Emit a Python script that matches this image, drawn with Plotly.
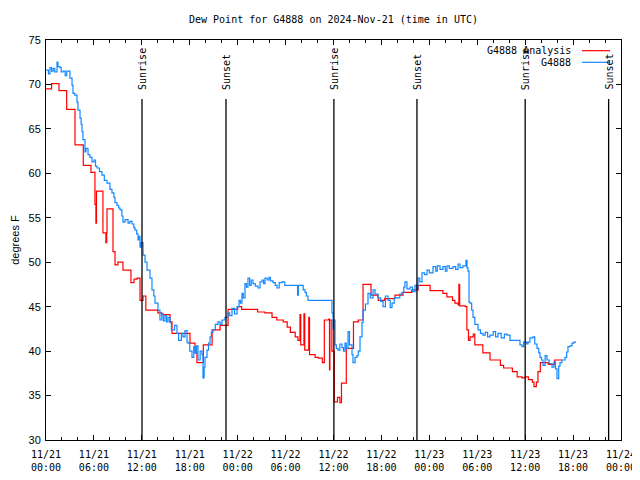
import pandas as pd
import plotly.graph_objects as go

BASE = pd.Timestamp("2024-11-21 00:00")

# Observed dew point (G4888): hours since 2024-11-21 00:00 UTC, degrees F
obs_hours = [0.0, 0.3, 0.5, 0.7, 0.9, 1.1, 1.38, 1.5, 1.75, 1.9, 2.13, 2.4, 2.6, 3.0, 3.26, 3.38, 3.6, 3.88,
             4.0, 4.26, 4.4, 4.51, 4.63, 4.88, 5.0, 5.26, 5.5, 5.76, 6.0, 6.2, 6.39, 6.7, 7.01, 7.3, 7.64,
             8.01, 8.26, 8.5, 8.64, 8.89, 9.1, 9.27, 9.5, 9.64, 9.9, 10.27, 10.5, 10.77, 11.0, 11.14, 11.35,
             11.52, 11.6, 11.77, 11.9, 12.15, 12.4, 12.65, 13.02, 13.27, 13.5, 13.65, 14.02, 14.27, 14.5,
             14.7, 14.9, 15.1, 15.28, 15.53, 15.7, 15.9, 16.1, 16.4, 16.6, 16.78, 16.95, 17.15, 17.4, 17.66,
             17.78, 18.0, 18.28, 18.5, 18.66, 18.85, 19.03, 19.3, 19.53, 19.66, 19.8, 19.91, 20.16, 20.35,
             20.54, 20.7, 20.91, 21.2, 21.54, 21.8, 22.04, 22.41, 22.79, 23.0, 23.29, 23.6, 23.92, 24.17,
             24.35, 24.54, 24.7, 24.92, 25.1, 25.29, 25.5, 25.7, 25.92, 26.2, 26.55, 26.8, 27.05, 27.25,
             27.42, 27.7, 27.92, 28.1, 28.43, 28.7, 28.93, 29.2, 29.55, 29.9, 30.3, 31.0, 31.43, 31.5, 31.6,
             32.06, 32.2, 32.43, 32.6, 32.81, 35.56, 35.81, 35.94, 36.0, 36.19, 36.35, 36.56, 36.8, 37.06,
             37.25, 37.44, 37.6, 37.82, 38.0, 38.32, 38.44, 38.7, 38.94, 39.1, 39.32, 39.57, 39.69, 40.0,
             40.32, 40.6, 40.95, 41.2, 41.57, 41.9, 42.2, 42.5, 42.83, 43.1, 43.33, 43.6, 43.95, 44.3, 44.58,
             44.8, 44.95, 45.2, 45.58, 45.9, 46.21, 46.4, 46.58, 46.8, 47.08, 47.4, 47.71, 48.0, 48.46, 48.8,
             49.0, 49.34, 49.7, 50.0, 50.21, 50.5, 50.96, 51.3, 51.6, 51.84, 52.2, 52.59, 52.72, 52.84, 52.97,
             53.09, 53.3, 53.47, 53.7, 54.1, 54.4, 54.72, 55.0, 55.3, 55.6, 56.0, 56.3, 56.6, 57.0, 57.4,
             57.73, 58.1, 58.6, 59.1, 59.35, 59.6, 59.8, 59.98, 60.2, 60.36, 60.6, 60.98, 61.2, 61.48, 61.7,
             61.86, 62.05, 62.23, 62.5, 62.73, 63.0, 63.36, 63.6, 63.8, 63.99, 64.2, 64.36, 64.6, 64.99, 65.2,
             65.36, 65.6, 65.86, 66.1, 66.37]
obs_values = [71.6, 71.2, 71.9, 71.5, 71.8, 71.4, 72.5, 72.0, 71.9, 71.4, 71.5, 71.0, 71.5, 70.7, 69.9, 69.0,
              68.8, 68.0, 67.1, 66.2, 65.5, 64.7, 63.8, 62.4, 62.8, 62.1, 61.8, 61.3, 61.5, 60.8, 60.6, 60.2,
              59.8, 59.2, 58.9, 58.2, 57.8, 57.3, 56.7, 56.4, 56.1, 55.9, 55.2, 54.5, 54.8, 54.4, 54.6, 54.3,
              53.9, 53.6, 53.2, 52.5, 52.9, 51.7, 52.2, 50.8, 50.0, 49.1, 48.2, 46.9, 46.2, 45.4, 44.6, 43.5,
              44.2, 43.4, 44.0, 43.3, 43.8, 43.2, 42.4, 42.4, 42.9, 42.0, 41.2, 41.2, 42.0, 41.6, 42.3, 41.0,
              40.9, 40.0, 39.3, 40.5, 39.8, 40.6, 39.0, 40.0, 39.6, 37.0, 38.2, 39.3, 40.1, 40.9, 41.6, 42.1,
              42.4, 43.0, 43.3, 43.0, 43.5, 43.8, 44.3, 44.0, 44.8, 44.2, 45.0, 45.7, 45.4, 46.5, 46.0, 47.6,
              47.2, 48.2, 47.4, 48.0, 47.6, 47.3, 47.1, 47.8, 48.0, 47.6, 48.2, 48.0, 48.3, 47.9, 47.7, 47.4,
              47.1, 47.7, 47.8, 47.4, 47.4, 47.4, 47.4, 46.3, 47.4, 47.4, 46.9, 46.6, 46.2, 45.7, 45.7, 44.3,
              42.5, 43.5, 40.7, 40.3, 40.1, 40.8, 40.4, 40.0, 40.9, 40.3, 42.2, 40.7, 39.6, 38.7, 39.3, 39.5,
              40.0, 41.6, 43.2, 44.6, 45.3, 46.5, 46.0, 46.9, 46.4, 46.0, 45.6, 45.0, 46.2, 45.7, 44.9, 45.4,
              46.0, 46.0, 46.4, 46.6, 47.2, 47.8, 47.0, 47.2, 46.7, 47.4, 47.0, 48.2, 47.8, 48.8, 48.6, 49.1,
              48.8, 49.5, 49.0, 49.6, 49.2, 49.5, 49.0, 49.6, 49.3, 49.5, 49.2, 49.8, 49.4, 49.6, 50.2, 49.4,
              49.0, 45.5, 45.4, 44.6, 43.8, 43.0, 42.4, 42.0, 41.8, 42.1, 41.6, 41.8, 42.2, 41.6, 42.0, 41.5,
              41.9, 41.8, 41.2, 41.2, 41.2, 40.7, 40.5, 41.0, 41.0, 40.8, 41.0, 41.5, 41.6, 40.8, 40.3, 39.8,
              39.3, 39.0, 38.4, 39.5, 39.0, 38.6, 38.2, 38.8, 38.0, 36.9, 38.3, 38.7, 39.0, 39.3, 39.9, 40.5,
              40.6, 40.9, 41.0, 41.0]

# Analysis dew point (G4888 Analysis)
ana_hours = [0.0, 0.7, 1.63, 2.59, 3.63, 4.67, 5.63, 6.13, 6.25, 6.32, 7.13, 7.5, 7.6, 7.64, 8.39, 8.64, 9.0,
             9.64, 10.64, 11.02, 11.4, 11.77, 12.15, 12.5, 14.0, 14.5, 15.53, 15.78, 18.03, 18.66, 18.9, 19.7,
             20.8, 21.8, 22.8, 24.0, 24.5, 26.5, 27.4, 28.3, 28.9, 29.7, 30.2, 30.6, 31.2, 31.55, 31.8, 31.9,
             32.3, 32.4, 32.9, 33.0, 33.7, 34.1, 34.6, 34.85, 35.4, 35.5, 35.55, 35.8, 36.1, 36.5, 36.8, 37.0,
             37.6, 38.5, 39.1, 39.7, 40.7, 41.6, 42.4, 43.7, 44.7, 45.8, 46.6, 48.1, 49.7, 50.2, 50.9, 51.2,
             51.6, 51.7, 51.8, 52.5, 52.7, 52.9, 53.1, 53.5, 53.7, 54.7, 55.6, 56.9, 57.3, 58.4, 59.0, 59.6,
             60.0, 60.4, 60.9, 61.1, 61.4, 61.6, 61.9, 62.9, 63.7, 64.6]
ana_values = [69.5, 70.1, 69.3, 67.2, 63.2, 60.9, 60.1, 56.5, 54.4, 58.0, 53.3, 52.2, 53.3, 56.0, 51.2, 49.7,
              50.0, 49.1, 47.7, 48.1, 48.2, 45.7, 46.2, 44.6, 44.3, 44.1, 43.3, 42.0, 40.9, 39.8, 38.7, 40.7,
              42.4, 42.9, 44.7, 45.0, 44.7, 44.4, 44.3, 43.8, 43.5, 43.3, 42.7, 42.1, 41.6, 41.2, 44.1, 40.7,
              44.2, 40.1, 43.8, 39.6, 39.3, 39.2, 38.7, 43.5, 43.6, 37.9, 43.5, 40.0, 34.3, 34.8, 34.2, 36.4,
              40.3, 43.3, 43.5, 47.5, 46.3, 45.7, 45.9, 46.3, 46.6, 46.9, 47.4, 46.8, 46.5, 46.1, 45.7, 45.4,
              45.2, 47.5, 45.1, 45.0, 42.4, 41.2, 41.6, 41.9, 40.7, 39.8, 39.0, 38.4, 38.1, 37.7, 37.1, 37.0,
              37.1, 36.8, 36.5, 36.0, 36.5, 37.7, 38.7, 38.5, 39.0, 39.0]

# Sun events (hours since 2024-11-21 00:00 UTC)
sun_hours = [12.02, 22.54, 36.05, 46.45, 60.0, 70.45]
sun_labels = ["Sunrise", "Sunset", "Sunrise", "Sunset", "Sunrise", "Sunset"]

# x tick labels every 6 hours
tick_hours = [0, 6, 12, 18, 24, 30, 36, 42, 48, 54, 60, 66, 72]
tick_labels = ["11/21<br>00:00", "11/21<br>06:00", "11/21<br>12:00", "11/21<br>18:00",
               "11/22<br>00:00", "11/22<br>06:00", "11/22<br>12:00", "11/22<br>18:00",
               "11/23<br>00:00", "11/23<br>06:00", "11/23<br>12:00", "11/23<br>18:00",
               "11/24<br>00:00"]

y_ticks = [30, 35, 40, 45, 50, 55, 60, 65, 70, 75]

RED = "#ff0000"
BLUE = "#1488ff"
MONO = "DejaVu Sans Mono"
SANS = "Liberation Sans"

# The page body adds an 8px offset, so the figure is 8px smaller on each side.
FIG_W, FIG_H = 632, 472


def to_time(hours):
    return BASE + pd.to_timedelta(pd.Series(hours, dtype=float), unit="h")


fig = go.Figure()
fig.add_trace(go.Scatter(x=to_time(ana_hours), y=ana_values, mode="lines", name="G4888 Analysis",
                         line=dict(color=RED, width=1.2, shape="hv"), showlegend=False))
fig.add_trace(go.Scatter(x=to_time(obs_hours), y=obs_values, mode="lines", name="G4888",
                         line=dict(color=BLUE, width=1.2, shape="hv"), showlegend=False))

sun_times = to_time(sun_hours)
for t, lab in zip(sun_times, sun_labels):
    fig.add_shape(type="line", xref="x", yref="paper", x0=t, x1=t, y0=0, y1=0.8525,
                  line=dict(color="black", width=1.3))
    fig.add_annotation(x=t, xref="x", y=0.87, yref="paper", text=lab, textangle=-90,
                       showarrow=False, xanchor="center", yanchor="bottom",
                       font=dict(family=MONO, size=10, color="black"))

# gnuplot-style legend (text left of sample line)
legend_items = [("G4888 Analysis", RED), ("G4888", BLUE)]
for i, (name, col) in enumerate(legend_items):
    yp = 1 - (10.7 + 11.6 * i) / 400
    fig.add_annotation(x=(573 - 46) / 575, xref="paper", y=yp, yref="paper", text=name,
                       showarrow=False, xanchor="right", yanchor="middle",
                       font=dict(family=MONO, size=10, color="black"))
    fig.add_shape(type="line", xref="paper", yref="paper", x0=(582 - 46) / 575, x1=(610 - 46) / 575,
                  y0=yp, y1=yp, line=dict(color=col, width=1.2))

fig.update_layout(
    width=FIG_W, height=FIG_H, autosize=False,
    margin=dict(l=38, r=19, t=32, b=40, autoexpand=False),
    paper_bgcolor="white", plot_bgcolor="white",
    title=dict(text="Dew Point for G4888 on 2024-Nov-21 (time in UTC)", x=0.5, xref="paper",
               xanchor="center", y=1 - 11 / FIG_H, yanchor="middle",
               font=dict(family=MONO, size=10, color="black")),
    showlegend=False,
)
fig.update_xaxes(
    range=[BASE, BASE + pd.Timedelta(hours=72)], automargin=False,
    tickvals=to_time(tick_hours), ticktext=tick_labels,
    ticks="inside", ticklen=5, tickwidth=1, tickcolor="black", ticklabelstandoff=5,
    minor=dict(dtick=2 * 3600 * 1000, ticks="inside", ticklen=3, tickcolor="black", showgrid=False),
    showline=True, linecolor="black", linewidth=1, mirror="ticks",
    showgrid=False, zeroline=False,
    tickfont=dict(family=MONO, size=10, color="black"),
)
fig.update_yaxes(
    range=[30, 75], tickvals=y_ticks, automargin=False,
    ticks="inside", ticklen=5, tickwidth=1, tickcolor="black", ticklabelstandoff=2,
    showline=True, linecolor="black", linewidth=1, mirror="ticks",
    showgrid=False, zeroline=False,
    tickfont=dict(family=SANS, size=11, color="black"),
    title=dict(text="degrees F", font=dict(family=SANS, size=11, color="black"), standoff=6),
)

fig.write_html("out.html")
